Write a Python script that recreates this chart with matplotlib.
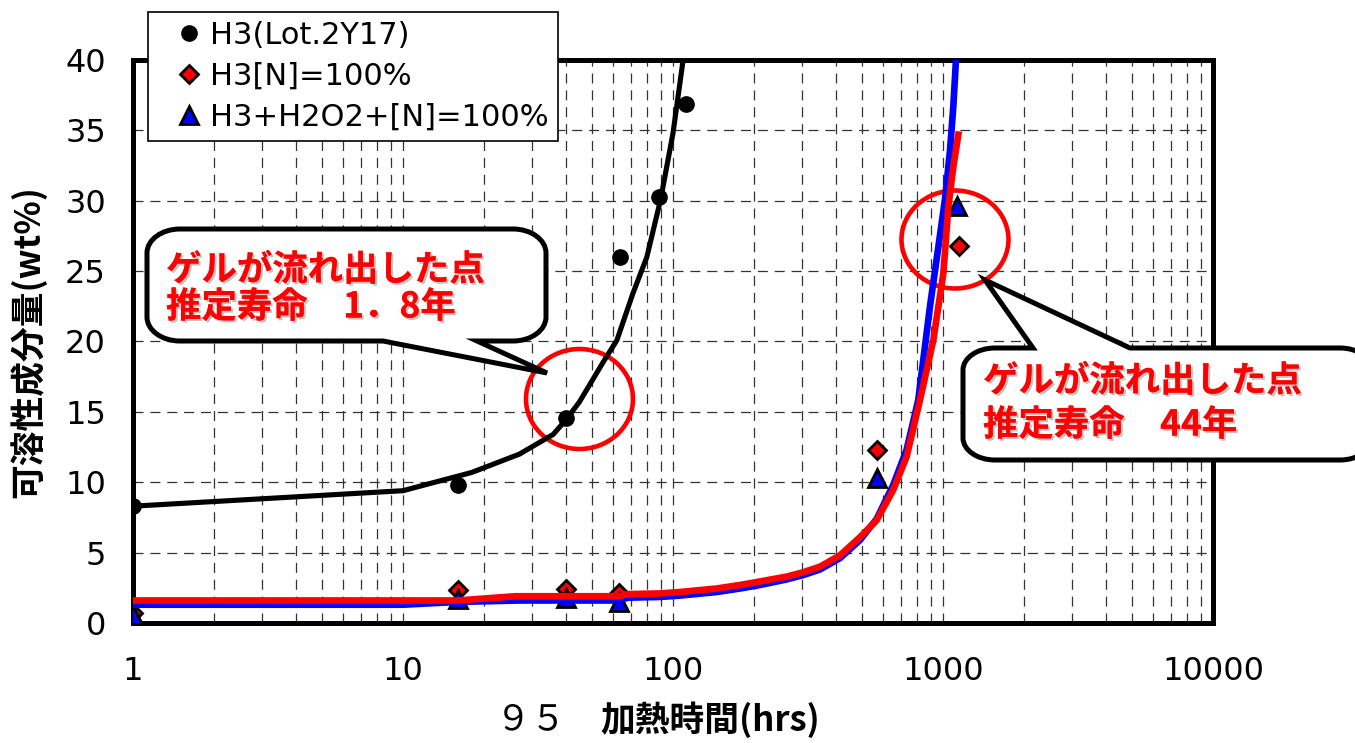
import matplotlib
matplotlib.use('Agg')
import matplotlib.pyplot as plt
import matplotlib.ticker as ticker
import matplotlib.patheffects as pe
from matplotlib.path import Path
from matplotlib.patches import PathPatch, Ellipse

plt.rcParams['font.family'] = ['DejaVu Sans', 'Noto Sans CJK JP']

# 測定点
h3_x = [1, 16, 40, 63.5, 88.5, 112]
h3_y = [8.3, 9.8, 14.55, 26.0, 30.3, 36.9]

n100_x = [1, 16, 40, 63, 571, 1146]
n100_y = [0.7, 2.35, 2.4, 2.15, 12.3, 26.75]

h2o2_x = [1, 16, 40, 63, 571, 1124]
h2o2_y = [0.6, 1.67, 1.77, 1.5, 10.3, 29.6]

# 近似曲線
h3_fit_x = [1, 10, 18, 27, 36, 40, 45, 55, 62, 71, 80, 90, 100, 109]
h3_fit_y = [8.3, 9.4, 10.7, 12.0, 13.4, 14.4, 15.7, 18.5, 20.1, 23.4, 26.0, 30.1, 34.8, 40]

n100_fit_x = [1, 16, 26, 63, 68, 89.5, 106, 145, 177, 210, 264, 303, 350, 415,
              493, 568, 654, 733, 822, 921, 1003, 1047, 1092, 1140]
n100_fit_y = [1.6, 1.6, 1.9, 1.9, 2.05, 2.1, 2.2, 2.45, 2.7, 2.95, 3.3, 3.6, 4.0, 4.8,
              6.1, 7.3, 9.45, 11.8, 15.85, 20.1, 24.85, 29.6, 32.4, 34.7]

h2o2_fit_x = [1, 10, 16, 27, 63, 68, 89.5, 106, 145, 177, 210, 264, 303, 350, 415,
              493, 568, 654, 733, 810, 895, 961, 1017, 1062, 1092, 1117]
h2o2_fit_y = [1.3, 1.3, 1.5, 1.6, 1.6, 1.8, 1.85, 1.95, 2.2, 2.45, 2.7, 3.1, 3.4, 3.8, 4.6,
              5.9, 7.4, 9.8, 12.3, 15.85, 22.5, 26.7, 30.1, 33.6, 36.7, 40]

labels = ['H3(Lot.2Y17)', 'H3[N]=100%', 'H3+H2O2+[N]=100%']
note_left = ['ゲルが流れ出した点', '推定寿命　1．8年']
note_right = ['ゲルが流れ出した点', '推定寿命　44年']

W, H = 1355, 743
fig = plt.figure(figsize=(W / 100, H / 100), dpi=100)
ax = fig.add_axes([133 / W, 1 - 623 / H, 1080 / W, 563 / H])

# 点
ax.plot(h3_x, h3_y, ls='none', marker='o', ms=11, color='black', zorder=3, label=labels[0])
ax.plot(n100_x, n100_y, ls='none', marker='D', ms=9, mfc='#ff0000', mec='black', mew=2,
        zorder=3, label=labels[1])
ax.plot(h2o2_x, h2o2_y, ls='none', marker='^', ms=12.5, mfc='#0000ff', mec='black', mew=2,
        zorder=3, label=labels[2])

# 線
ax.plot(h3_fit_x, h3_fit_y, color='black', lw=3.7, zorder=4, solid_capstyle='butt')
ax.plot(h2o2_fit_x, h2o2_fit_y, color='#0000ff', lw=4.8, zorder=4)
ax.plot(n100_fit_x, n100_fit_y, color='#ff0000', lw=4.8, zorder=4)

ax.set_xscale('log')
ax.set_xlim(1, 10000)
ax.set_ylim(0, 40)
ax.set_yticks(range(0, 41, 5))
ax.xaxis.set_major_formatter(ticker.FuncFormatter(lambda v, p: f'{v:g}'))
ax.xaxis.set_minor_formatter(ticker.NullFormatter())
ax.tick_params(which='both', length=0)
ax.tick_params(axis='both', labelsize=23)
ax.tick_params(axis='x', pad=24)
ax.tick_params(axis='y', pad=19.5)

grid_kw = dict(color='#333333', lw=0.9, ls=(0, (8, 5.5)))
ax.grid(True, which='both', axis='x', **grid_kw)
ax.grid(True, which='major', axis='y', **grid_kw)

for s in ax.spines.values():
    s.set_linewidth(3.6)
    s.set_color('black')

# 軸ラベル
fig.text(28 / W, 1 - 342 / H, '可溶性成分量(wt%)', rotation=90, ha='center', va='center',
         fontsize=25, fontweight='bold', family=['Noto Sans CJK JP', 'DejaVu Sans'])
fig.text(496 / W, 1 - 720 / H, '９５　', ha='left', va='center', fontsize=25,
         family=['Noto Sans CJK JP'])
fig.text(600 / W, 1 - 720 / H, '加熱時間(hrs)', ha='left', va='center', fontsize=25,
         fontweight='bold', family=['Noto Sans CJK JP'])

# 凡例
leg = ax.legend(loc='upper left', bbox_to_anchor=(148 / W, 1 - 12 / H),
                bbox_transform=fig.transFigure, borderaxespad=0, fancybox=False,
                framealpha=1, edgecolor='black', prop=dict(family='DejaVu Sans', size=22),
                borderpad=0.3, handlelength=2.07, handletextpad=-0.35, labelspacing=0.38,
                numpoints=1)
leg.get_frame().set_linewidth(1.2)
leg.set_zorder(8)

# 丸印
for cx, cy, w, h in [(579.5, 399, 107, 100), (955, 239.5, 107, 98)]:
    ax.add_patch(Ellipse(((cx - 133) / 1080, (623 - cy) / 563), w / 1080, h / 563,
                         transform=ax.transAxes, fill=False, ec='#ff0000', lw=3.3,
                         zorder=3.5, clip_on=False))


def callout(x0, y0, x1, y1, rx, ry, a, tip, b, side):
    """角丸吹き出し (px座標, 上が原点)"""
    k = 0.5523
    v, c = [], []

    def mv(p):
        v.append(p); c.append(Path.MOVETO)

    def ln(p):
        v.append(p); c.append(Path.LINETO)

    def cv(p1, p2, p3):
        v.extend([p1, p2, p3]); c.extend([Path.CURVE4] * 3)

    mv((x0 + rx, y0))
    if side == 'top':
        ln((a, y0)); ln(tip); ln((b, y0))
    ln((x1 - rx, y0))
    cv((x1 - rx + k * rx, y0), (x1, y0 + ry - k * ry), (x1, y0 + ry))
    ln((x1, y1 - ry))
    cv((x1, y1 - ry + k * ry), (x1 - rx + k * rx, y1), (x1 - rx, y1))
    if side == 'bottom':
        ln((b, y1)); ln(tip); ln((a, y1))
    ln((x0 + rx, y1))
    cv((x0 + rx - k * rx, y1), (x0, y1 - ry + k * ry), (x0, y1 - ry))
    ln((x0, y0 + ry))
    cv((x0, y0 + ry - k * ry), (x0 + rx - k * rx, y0), (x0 + rx, y0))
    v.append((x0 + rx, y0)); c.append(Path.CLOSEPOLY)
    v = [(px / W, 1 - py / H) for px, py in v]
    return Path(v, c)


bubbles = [callout(147, 229, 546, 341, 33, 24, 383, (547, 373), 477, 'bottom'),
           callout(963, 348, 1372, 460, 32, 22, 1033, (985, 280), 1130, 'top')]
for p in bubbles:
    fig.add_artist(PathPatch(p, transform=fig.transFigure, fc='white', ec='black',
                             lw=3.6, zorder=6, joinstyle='miter'))

shadow = [pe.withSimplePatchShadow(offset=(1.5, -1.5), shadow_rgbFace='#9a9a9a', alpha=0.6),
          pe.Normal()]
note_kw = dict(ha='left', va='center', fontsize=25.5, fontweight='bold', color='#ff0000',
               family=['Noto Sans CJK JP'], zorder=7, path_effects=shadow)
for (tx, ty), s in zip([(166, 270), (166, 307)], note_left):
    fig.text(tx / W, 1 - ty / H, s, **note_kw)
for (tx, ty), s in zip([(983, 381), (983, 425)], note_right):
    fig.text(tx / W, 1 - ty / H, s, **note_kw)

fig.savefig('out.png', dpi=100)
